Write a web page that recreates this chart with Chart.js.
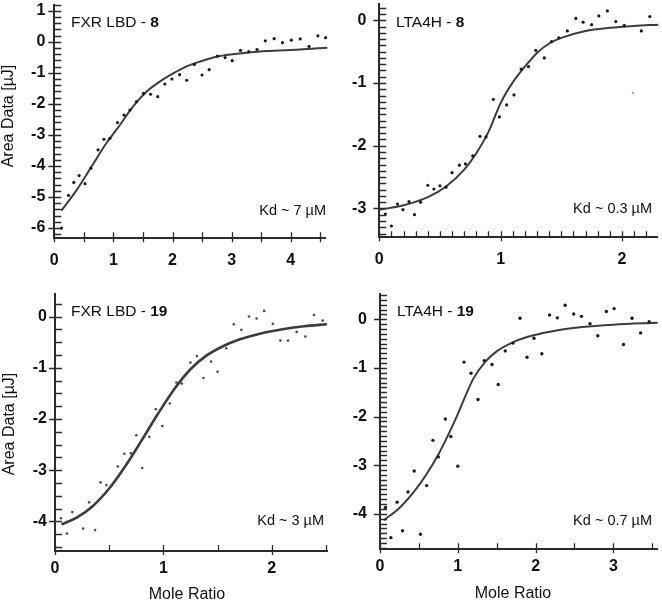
<!DOCTYPE html>
<html lang="en">
<head>
<meta charset="UTF-8">
<title>ITC binding isotherms</title>
<script src="https://cdn.jsdelivr.net/npm/chart.js@4"></script>
<style>
  body { margin: 0; background: #fff; }
  #wrap { position: relative; width: 662px; height: 604px; overflow: hidden; }
  canvas { position: absolute; }
</style>
</head>
<body>
<div id="wrap">
  <canvas id="c1" width="331" height="290" style="left:0;top:0"></canvas>
  <canvas id="c2" width="331" height="290" style="left:331px;top:0"></canvas>
  <canvas id="c3" width="331" height="314" style="left:0;top:290px"></canvas>
  <canvas id="c4" width="331" height="314" style="left:331px;top:290px"></canvas>
</div>
<script>
// FXR LBD - 8
const fxr8X = [0.12,0.24,0.33,0.42,0.52,0.62,0.74,0.84,0.94,1.07,1.18,1.28,1.39,1.51,1.63,1.75,1.87,1.99,2.12,2.24,2.37,2.50,2.62,2.76,2.89,3.01,3.15,3.29,3.43,3.57,3.72,3.86,4.01,4.16,4.31,4.46,4.59];
const fxr8Y = [-6.0,-4.95,-4.53,-4.31,-4.57,-4.07,-3.48,-3.14,-3.11,-2.60,-2.36,-2.20,-1.93,-1.66,-1.69,-1.77,-1.36,-1.20,-1.06,-1.24,-0.73,-1.07,-0.90,-0.46,-0.51,-0.61,-0.28,-0.32,-0.25,0.03,0.10,-0.03,0.05,0.09,-0.15,0.19,0.13];
const fxr8FitX = [0.12,0.38,0.63,0.88,1.11,1.33,1.56,1.78,2.01,2.23,2.46,2.74,3.02,3.58,4.15,4.62];
const fxr8FitY = [-5.44,-4.77,-4.02,-3.27,-2.68,-2.09,-1.61,-1.29,-1.02,-0.80,-0.64,-0.48,-0.40,-0.30,-0.25,-0.19];
const fxr8XTicks = [0,1,2,3,4];
const fxr8YTicks = [-6,-5,-4,-3,-2,-1,0,1];

// LTA4H - 8
const lta8X = [0.05,0.10,0.15,0.195,0.245,0.29,0.34,0.40,0.45,0.50,0.55,0.60,0.66,0.71,0.77,0.83,0.88,0.94,0.99,1.05,1.11,1.17,1.23,1.29,1.36,1.42,1.48,1.55,1.62,1.68,1.75,1.81,1.88,1.95,2.02,2.16,2.23];
const lta8Y = [-3.09,-3.28,-2.93,-3.02,-2.89,-3.10,-2.90,-2.63,-2.69,-2.64,-2.66,-2.43,-2.31,-2.29,-2.16,-1.85,-1.86,-1.26,-1.54,-1.35,-1.19,-0.78,-0.74,-0.48,-0.60,-0.34,-0.28,-0.17,0.03,-0.03,-0.07,0.07,0.15,-0.02,-0.08,-0.17,0.06];
const lta8OutX = [2.09];
const lta8OutY = [-1.16];
const lta8FitX = [0,0.2,0.4,0.55,0.7,0.8,0.9,1.0,1.1,1.2,1.3,1.4,1.5,1.7,1.9,2.1,2.3];
const lta8FitY = [-3.02,-2.95,-2.82,-2.65,-2.38,-2.12,-1.78,-1.32,-0.99,-0.74,-0.52,-0.37,-0.28,-0.17,-0.12,-0.09,-0.07];
const lta8XTicks = [0,1,2];
const lta8YTicks = [-3,-2,-1,0];

// FXR LBD - 19
const fxr19X = [0.055,0.11,0.16,0.26,0.315,0.37,0.42,0.475,0.58,0.64,0.70,0.75,0.805,0.87,0.93,0.99,1.06,1.12,1.17,1.25,1.31,1.37,1.44,1.50,1.58,1.65,1.72,1.79,1.86,1.93,2.01,2.08,2.15,2.23,2.31,2.39,2.47];
const fxr19Y = [-3.94,-4.24,-3.82,-4.14,-3.63,-4.17,-3.24,-3.29,-2.93,-2.68,-2.67,-2.32,-2.96,-2.35,-1.81,-2.14,-1.70,-1.29,-1.31,-0.90,-0.77,-1.20,-0.88,-1.08,-0.62,-0.15,-0.26,0.0,-0.04,0.11,-0.14,-0.47,-0.47,-0.30,-0.39,0.03,-0.08];
const fxr19FitX = [0.06,0.2,0.35,0.5,0.65,0.8,0.95,1.1,1.25,1.4,1.55,1.7,1.9,2.1,2.3,2.51];
const fxr19FitY = [-4.06,-3.93,-3.70,-3.36,-2.92,-2.42,-1.90,-1.42,-1.03,-0.76,-0.58,-0.45,-0.33,-0.25,-0.19,-0.15];
const fxr19XTicks = [0,1,2];
const fxr19YTicks = [-4,-3,-2,-1,0];

// LTA4H - 19
const lta19X = [0.07,0.14,0.22,0.29,0.36,0.44,0.52,0.60,0.68,0.75,0.84,0.91,1.00,1.08,1.17,1.26,1.34,1.44,1.52,1.61,1.71,1.80,1.89,1.98,2.08,2.18,2.28,2.38,2.49,2.59,2.70,2.80,2.91,3.01,3.13,3.24,3.35,3.46];
const lta19Y = [-3.87,-4.49,-3.76,-4.35,-3.55,-3.12,-4.42,-3.42,-2.49,-2.83,-2.05,-2.41,-3.02,-0.88,-1.11,-1.65,-0.85,-0.93,-1.34,-0.65,-0.49,0.02,-0.78,-0.39,-0.71,0.09,0.03,0.29,0.11,0.06,-0.09,-0.34,0.16,0.22,-0.52,0.02,-0.28,-0.05];
const lta19FitX = [0.05,0.25,0.45,0.6,0.75,0.9,1.0,1.1,1.2,1.35,1.5,1.7,1.9,2.2,2.6,3.0,3.57];
const lta19FitY = [-4.13,-3.88,-3.52,-3.18,-2.78,-2.30,-1.95,-1.57,-1.22,-0.88,-0.66,-0.48,-0.36,-0.25,-0.16,-0.11,-0.07];
const lta19XTicks = [0,1,2,3];
const lta19YTicks = [-4,-3,-2,-1,0];

const FONT = "'Liberation Sans', Arial, sans-serif";
const INK = '#2b2b2b';

const toXY = (xs, ys) => xs.map((x, i) => ({x: x, y: ys[i]}));

// keep the plot area where it is: no extra room for edge labels
const noPad = s => { s.paddingTop = 0; s.paddingBottom = 0; s.paddingLeft = 0; s.paddingRight = 0; };

// minor / major tick marks along both axes
const tickMarks = {
  id: 'tickMarks',
  afterDraw(chart, args, o) {
    const {ctx, chartArea: a} = chart;
    const xs = chart.scales.x, ys = chart.scales.y;
    ctx.save();
    ctx.strokeStyle = INK;
    ctx.lineWidth = 1.3;
    ctx.beginPath();
    for (let k = Math.ceil(xs.min / o.xStep - 1e-6); k * o.xStep <= xs.max + 1e-6; k++) {
      const v = k * o.xStep;
      const major = o.xAllMajor || Math.abs(v - Math.round(v)) < 1e-6;
      const px = Math.round(xs.getPixelForValue(v)) + 0.5;
      ctx.moveTo(px, a.bottom - 6);
      ctx.lineTo(px, a.bottom + (major ? 4 : 0));
    }
    for (let k = Math.ceil(ys.min / o.yStep - 1e-6); k * o.yStep <= ys.max + 1e-6; k++) {
      const v = k * o.yStep;
      const major = Math.abs(v - Math.round(v)) < 1e-6;
      const py = Math.round(ys.getPixelForValue(v)) + 0.5;
      ctx.moveTo(a.left - (major ? 6 : 0), py);
      ctx.lineTo(a.left + 7, py);
    }
    ctx.stroke();
    ctx.restore();
  }
};

// panel title, Kd note and axis titles
const labels = {
  id: 'labels',
  afterDraw(chart, args, o) {
    const ctx = chart.ctx;
    ctx.save();
    ctx.fillStyle = '#111';
    ctx.textBaseline = 'alphabetic';
    ctx.textAlign = 'left';
    ctx.font = '15.5px ' + FONT;
    ctx.fillText(o.name, o.titleX, o.titleY);
    const w = ctx.measureText(o.name).width;
    ctx.font = 'bold 15.5px ' + FONT;
    ctx.fillText(o.cpd, o.titleX + w, o.titleY);
    ctx.font = '14.5px ' + FONT;
    ctx.textAlign = 'right';
    ctx.fillText(o.kd, o.kdX, o.kdY);
    ctx.font = '16px ' + FONT;
    ctx.textAlign = 'center';
    ctx.textBaseline = 'middle';
    if (o.yTitle) {
      ctx.save();
      ctx.translate(o.yTitle.x, o.yTitle.y);
      ctx.rotate(-Math.PI / 2);
      ctx.fillText('Area Data [µJ]', 0, 0);
      ctx.restore();
    }
    if (o.xTitle) ctx.fillText('Mole Ratio', o.xTitle.x, o.xTitle.y);
    ctx.restore();
  }
};

function makePanel(id, p) {
  const datasets = [
    {data: toXY(p.fitX, p.fitY), showLine: true, pointRadius: 0, borderColor: '#3c3c3c',
     borderWidth: p.lineW, cubicInterpolationMode: 'monotone', clip: false, order: 2},
    {data: toXY(p.ptX, p.ptY), pointRadius: p.dotR, backgroundColor: p.dotC, borderWidth: 0, clip: false, order: 1}
  ];
  if (p.outX) datasets.push({data: toXY(p.outX, p.outY), pointRadius: 1.2, backgroundColor: '#a8a8a8', borderWidth: 0, order: 0});
  new Chart(document.getElementById(id), {
    type: 'scatter',
    data: {datasets: datasets},
    options: {
      responsive: false,
      animation: false,
      events: [],
      layout: {padding: {top: p.padTop, right: p.padRight, left: 0, bottom: 0}},
      scales: {
        x: {
          type: 'linear', min: p.xMin, max: p.xMax,
          afterBuildTicks: s => { s.ticks = p.xTicks.map(v => ({value: v})); },
          afterFit: s => { s.height = p.xh; noPad(s); },
          grid: {display: false, drawTicks: false},
          border: {display: true, color: INK, width: 2},
          ticks: {padding: p.xPad, maxRotation: 0, autoSkip: false, color: '#111', font: {family: FONT, size: 16, weight: 'bold'}}
        },
        y: {
          type: 'linear', min: p.yMin, max: p.yMax,
          afterBuildTicks: s => { s.ticks = p.yTicks.map(v => ({value: v})); },
          afterFit: s => { s.width = p.yw; noPad(s); },
          grid: {display: false, drawTicks: false},
          border: {display: true, color: INK, width: 2},
          ticks: {padding: p.yPad, autoSkip: false, color: '#111', font: {family: FONT, size: 16, weight: 'bold'}}
        }
      },
      plugins: {
        legend: {display: false},
        tooltip: {enabled: false},
        tickMarks: {xStep: p.xStep, yStep: p.yStep, xAllMajor: p.xAllMajor},
        labels: p.labels
      }
    },
    plugins: [tickMarks, labels]
  });
}

makePanel('c1', {
  ptX: fxr8X, ptY: fxr8Y, fitX: fxr8FitX, fitY: fxr8FitY, xTicks: fxr8XTicks, yTicks: fxr8YTicks,
  xMin: 0, xMax: 4.58, yMin: -6.33, yMax: 1.2, xStep: 0.5, yStep: 0.2, xAllMajor: true,
  yw: 54.3, xh: 51.7, padTop: 4.5, padRight: 6, xPad: 13, yPad: 9,
  lineW: 2, dotR: 1.6, dotC: '#1a1a1a',
  labels: {name: 'FXR LBD - ', cpd: '8', titleX: 71, titleY: 27, kd: 'Kd ~ 7 µM', kdX: 326, kdY: 215,
           yTitle: {x: 9, y: 116}}
});
makePanel('c2', {
  ptX: lta8X, ptY: lta8Y, fitX: lta8FitX, fitY: lta8FitY, outX: lta8OutX, outY: lta8OutY,
  xTicks: lta8XTicks, yTicks: lta8YTicks,
  xMin: 0, xMax: 2.295, yMin: -3.46, yMax: 0.26, xStep: 0.1, yStep: 0.1,
  yw: 48.3, xh: 52.7, padTop: 3, padRight: 4.3, xPad: 13, yPad: 13,
  lineW: 2, dotR: 1.6, dotC: '#1a1a1a',
  labels: {name: 'LTA4H - ', cpd: '8', titleX: 65, titleY: 27, kd: 'Kd ~ 0.3 µM', kdX: 321, kdY: 213}
});
makePanel('c3', {
  ptX: fxr19X, ptY: fxr19Y, fitX: fxr19FitX, fitY: fxr19FitY, xTicks: fxr19XTicks, yTicks: fxr19YTicks,
  xMin: 0, xMax: 2.51, yMin: -4.58, yMax: 0.44, xStep: 0.5, yStep: 0.25,
  yw: 55, xh: 53, padTop: 1, padRight: 3, xPad: 8, yPad: 8,
  lineW: 2.6, dotR: 1.3, dotC: '#4a4a4a',
  labels: {name: 'FXR LBD - ', cpd: '19', titleX: 71, titleY: 26, kd: 'Kd ~ 3 µM', kdX: 324, kdY: 235,
           yTitle: {x: 9.5, y: 134}, xTitle: {x: 187, y: 305}}
});
makePanel('c4', {
  ptX: lta19X, ptY: lta19Y, fitX: lta19FitX, fitY: lta19FitY, xTicks: lta19XTicks, yTicks: lta19YTicks,
  xMin: 0, xMax: 3.57, yMin: -4.73, yMax: 0.52, xStep: 0.5, yStep: 0.1,
  yw: 49, xh: 54.7, padTop: 1, padRight: 4.3, xPad: 8, yPad: 13,
  lineW: 2, dotR: 1.7, dotC: '#1a1a1a',
  labels: {name: 'LTA4H - ', cpd: '19', titleX: 66, titleY: 26, kd: 'Kd ~ 0.7 µM', kdX: 321, kdY: 235,
           xTitle: {x: 182, y: 304}}
});
</script>
</body>
</html>
